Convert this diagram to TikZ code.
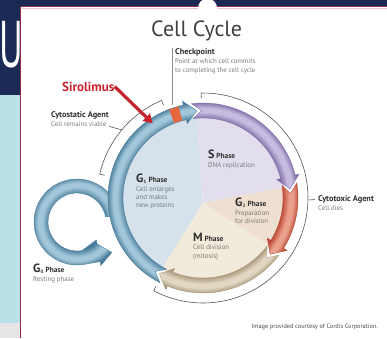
\documentclass[tikz,border=0pt]{standalone}
\usepackage{fontspec}
\setmainfont{PT Sans}
\usetikzlibrary{calc, arrows.meta}

\definecolor{navy}{HTML}{1B2A55}
\definecolor{sidecyan}{HTML}{B9E1E6}
\definecolor{sidegray}{HTML}{E5E5E5}
\definecolor{framered}{HTML}{8E2A50}
\definecolor{headgray}{HTML}{2E2E2E}
\definecolor{bodygray}{HTML}{7A7A7A}
\definecolor{drugred}{HTML}{C8242C}
\definecolor{gatered}{HTML}{E4673F}
\definecolor{gonefill}{HTML}{D6E2EB}
\definecolor{sfill}{HTML}{E3DEED}
\definecolor{gtwofill}{HTML}{EEDFD0}
\definecolor{mfill}{HTML}{F2EADA}
\definecolor{bluedk}{HTML}{4A7C9B}
\definecolor{bluelt}{HTML}{A2C7DA}
\definecolor{purpledk}{HTML}{7E6BA6}
\definecolor{purplelt}{HTML}{C7BCE0}
\definecolor{reddk}{HTML}{B8432F}
\definecolor{redlt}{HTML}{EBA08C}
\definecolor{beigedk}{HTML}{A8977A}
\definecolor{beigelt}{HTML}{E2D7C2}

\pgfdeclareradialshading{bandblue}{\pgfpointorigin}{color(0pt)=(bluedk); color(79pt)=(bluedk); color(86pt)=(bluelt); color(90pt)=(bluelt); color(96pt)=(bluedk); color(100pt)=(bluedk)}
\pgfdeclareradialshading{bandpurple}{\pgfpointorigin}{color(0pt)=(purpledk); color(79pt)=(purpledk); color(86pt)=(purplelt); color(90pt)=(purplelt); color(96pt)=(purpledk); color(100pt)=(purpledk)}
\pgfdeclareradialshading{bandred}{\pgfpointorigin}{color(0pt)=(reddk); color(79pt)=(reddk); color(86pt)=(redlt); color(90pt)=(redlt); color(96pt)=(reddk); color(100pt)=(reddk)}
\pgfdeclareradialshading{bandbeige}{\pgfpointorigin}{color(0pt)=(beigedk); color(79pt)=(beigedk); color(86pt)=(beigelt); color(90pt)=(beigelt); color(96pt)=(beigedk); color(100pt)=(beigedk)}
\pgfdeclareradialshading{loopblue}{\pgfpointorigin}{color(0pt)=(bluedk); color(28pt)=(bluedk); color(35pt)=(bluelt); color(39pt)=(bluelt); color(45pt)=(bluedk); color(70pt)=(bluedk)}

% headings of the text blocks
\newcommand{\headtxt}[1]{{\bfseries\fontsize{8.3}{9}\selectfont\color{headgray}#1}}
\newcommand{\phasetxt}[2]{{\bfseries\color{headgray}{\fontsize{12}{12}\selectfont #1}#2\fontsize{7.4}{8}\selectfont{} Phase}}

% band of the ring: tail angle, head base angle, tip angle
\newcommand{\bandpath}[3]{($(C)+(#1:95)$) arc[start angle=#1, end angle=#2, radius=95] -- ($(C)+(#2:99)$) -- ($(C)+(#3:87.5)$) -- ($(C)+(#2:76)$) -- ($(C)+(#2:80)$) arc[start angle=#2, end angle=#1, radius=80] -- ($(C)+(#1-6:87.5)$) -- cycle}
\newcommand{\ringarrow}[4]{%
  \begin{scope}
    \clip \bandpath{#1}{#2}{#3};
    \node[inner sep=0pt] at (C) {\pgfuseshading{band#4}};
  \end{scope}
  \draw[bandedge, draw=#4dk] \bandpath{#1}{#2}{#3};}

\begin{document}
\begin{tikzpicture}[x=1pt, y=1pt,
    bandedge/.style={line width=0.35pt},
    bracket/.style={draw=black!70, line width=0.55pt},
    blurb/.style={inner sep=0pt, anchor=north west, align=left,
      font=\fontsize{6.8}{9}\selectfont, text=bodygray},
    phase/.style={blurb, font=\fontsize{6.9}{8.3}\selectfont}]
    \useasboundingbox (0,0) rectangle (387,338);

    % --- 1. slide behind the picture ---
    \fill[navy] (0,243) rectangle (387,338);
    \fill[sidecyan] (0,15) rectangle (21,243);
    \fill[sidegray] (0,0) rectangle (21,15);
    \node[text=white, inner sep=0pt, anchor=base west,
      font=\fontsize{66}{66}\selectfont] (bigu) at (-1,271) {\scalebox{0.55}[1]{U}};
    \fill[white] (20.5,0) rectangle (387,331.5);
    \draw[framered, line width=1.1pt] (20.5,0) -- (20.5,331.5) -- (387,331.5);
    \draw[framered!25, line width=0.6pt] (21.5,330) -- (387,330);
    \fill[white] (207.5,330) circle (9.5);

    % --- 2. centres and radii ---
    \coordinate (C) at (203,140);
    \coordinate (P) at (203,135);
    \coordinate (L) at (77,116);

    % --- 3. pie of the four phases ---
    \begin{scope}
      \clip (C) circle (82);
      \fill[gonefill] (P) -- ($(P)+(94:110)$) arc[start angle=94, end angle=238, radius=110] -- cycle;
      \fill[sfill] (P) -- ($(P)+(11:110)$) arc[start angle=11, end angle=94, radius=110] -- cycle;
      \fill[gtwofill] (P) -- ($(P)+(-33:110)$) arc[start angle=-33, end angle=11, radius=110] -- cycle;
      \fill[mfill] (P) -- ($(P)+(-122:110)$) arc[start angle=-122, end angle=-33, radius=110] -- cycle;
    \end{scope}

    % --- 4. G0 loop, then the ring arrows ---
    \def\looppath{($(L)+(20:43)$) arc[start angle=20, end angle=280, radius=43] -- ++(10:16) -- ++(280:4) -- ($(L)+(280:36)+(10:29)$) -- ($(L)+(280:25)+(10:16)$) -- ++(100:4) -- ($(L)+(280:29)$) arc[start angle=280, end angle=10, radius=29] -- ($(C)+(192:86)$) -- cycle}
    \begin{scope}
      \clip \looppath;
      \node[inner sep=0pt] at (L) {\pgfuseshading{loopblue}};
    \end{scope}
    \draw[bandedge, draw=bluedk] \looppath;

    \ringarrow{243}{102}{94}{blue}
    \ringarrow{97}{14}{6}{purple}
    \ringarrow{9}{-32}{-40}{red}
    \ringarrow{-37}{-112}{-120}{beige}
    \fill[gatered] ($(C)+(105:80.3)$) arc[start angle=105, end angle=111, radius=80.3]
      -- ($(C)+(111:94.7)$) arc[start angle=111, end angle=105, radius=94.7] -- cycle;

    % --- 5. brackets ---
    \draw[bracket] ($(C)+(113:101)$) -- ($(C)+(113:106)$) arc[start angle=113, end angle=167, radius=106] -- ($(C)+(167:101)$);
    \draw[bracket] ($(C)+(91:100)$) -- ($(C)+(91:105)$) arc[start angle=91, end angle=-118, radius=105] -- ($(C)+(-118:100)$);
    \coordinate (statarc) at ($(C)+(140:106)$);
    \coordinate (toxarc) at ($(C)+(-1:105)$);
    \coordinate (gate) at ($(C)+(108:98)$);
    \coordinate (drughit) at ($(C)+(124:90)$);

    % --- 6. texts ---
    \node[inner sep=0pt, anchor=base west, text=black!75,
      font=\fontsize{22}{22}\selectfont] (title) at (151,301) {Cell Cycle};
    \node[blurb] (chk) at (175,290) {\headtxt{Checkpoint}\\Point at which cell commits\\to completing the cell cycle};
    \node[inner sep=0pt, anchor=base west, text=drugred,
      font=\bfseries\fontsize{13}{13}\selectfont] (siro) at (62,247) {Sirolimus};
    \node[blurb] (stat) at (51,227) {\headtxt{Cytostatic Agent}\\Cell remains viable};
    \node[blurb] (tox) at (318,143) {\headtxt{Cytotoxic Agent}\\Cell dies};
    \node[phase] (sph) at (208,188) {\phasetxt{S}{}\\DNA replication};
    \node[phase] (gone) at (136,164) {\phasetxt{G}{\textsubscript{1}}\\Cell enlarges\\and makes\\new proteins};
    \node[phase] (gtwo) at (235,140) {\phasetxt{G}{\textsubscript{2}}\\Preparation\\for division};
    \node[phase] (mph) at (193,105) {\phasetxt{M}{}\\Cell division\\(mitosis)};
    \node[phase] (gzero) at (33,74) {\phasetxt{G}{\textsubscript{0}}\\Resting phase};
    \node[inner sep=0pt, anchor=base east, text=black!70,
      font=\fontsize{6.3}{7}\selectfont] (credit) at (378,10) {Image provided courtesy of Cordis Corporation.};

    % --- 7. pointers ---
    \draw[draw=drugred, line width=3.2pt, -{Triangle[length=9pt, width=10pt]}] (siro.east) -- (drughit);
    \draw[black!45, line width=0.5pt] (gate) -- (gate |- chk.north);
    \draw[bracket] (stat.south east) -- (statarc);
    \draw[bracket] (toxarc) -- ($(tox.west)+(-3,3)$);
\end{tikzpicture}
\end{document}
